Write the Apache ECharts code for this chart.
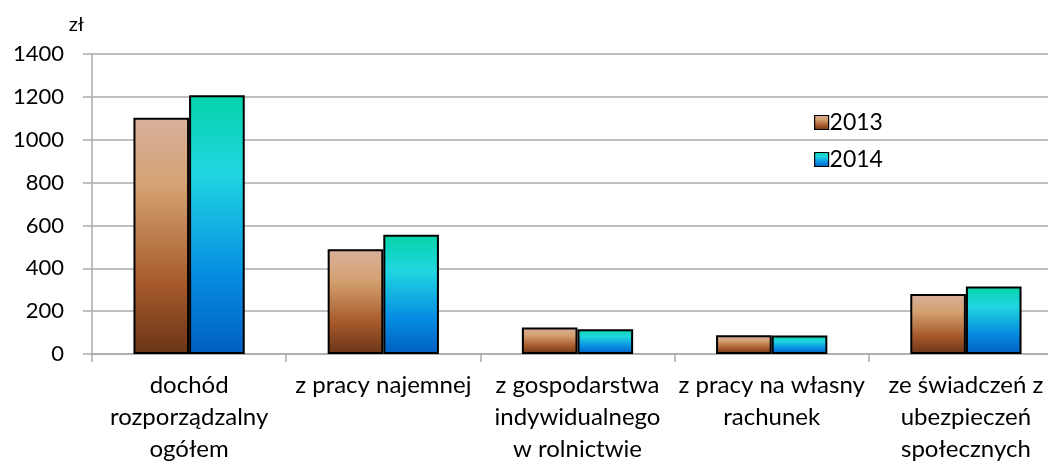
<!DOCTYPE html>
<html><head><meta charset="utf-8">
<script src="https://cdn.jsdelivr.net/npm/echarts@6/dist/echarts.min.js"></script>
<style>html,body{margin:0;padding:0;background:#fff}#c{width:1048px;height:466px}</style>
</head><body><div id="c"></div>
<script>
const categories = ['dochód\nrozporządzalny\nogółem', 'z pracy najemnej', 'z gospodarstwa\nindywidualnego\nw rolnictwie', 'z pracy na własny\nrachunek', 'ze świadczeń z\nubezpieczeń\nspołecznych'];
const seriesNames = ['2013', '2014'];
const values2013 = [1103, 489, 124, 87, 280];
const values2014 = [1207, 556, 116, 86, 315];
const yTicks = [0, 200, 400, 600, 800, 1000, 1200, 1400];

const FONT = "Lato";
function grad(stops){ return new echarts.graphic.LinearGradient(0,0,0,1, stops.map(s=>({offset:s[0],color:s[1]}))); }
const g2013 = () => grad([[0,'#d8b09c'],[0.3,'#d3a070'],[0.7,'#a75a2b'],[1,'#6a3418']]);
const g2014 = () => grad([[0,'#05d3a8'],[0.3,'#20d6e0'],[0.7,'#068ce2'],[1,'#005fc0']]);

const chart = echarts.init(document.getElementById('c'));
chart.setOption({
  animation:false,
  textStyle:{fontFamily:FONT},
  grid:{left:92, right:-15, top:54, bottom:112, containLabel:false, outerBoundsMode:'none'},
  legend:{
    data:[{name:'2013', itemStyle:{color:g2013()}},{name:'2014', itemStyle:{color:g2014()}}],
    orient:'vertical', left:809, top:106, itemWidth:14, itemHeight:14, itemGap:14,
    icon:'rect',
    textStyle:{fontSize:23, color:'#000', fontFamily:FONT, padding:[0,0,0,-4]},
    itemStyle:{borderColor:'#000', borderWidth:1.2}
  },
  xAxis:{
    type:'category', data:categories,
    axisLine:{lineStyle:{color:'#ababab', width:1.5}},
    axisTick:{show:true, length:8, lineStyle:{color:'#ababab', width:1.5}},
    axisLabel:{fontSize:24, color:'#000', lineHeight:32, margin:15, interval:0, fontFamily:FONT}
  },
  yAxis:{
    type:'value', min:0, max:1400, interval:200,
    name:'zł', nameLocation:'end', nameGap:19,
    nameTextStyle:{fontSize:20, color:'#000', align:'right', padding:[0,8,0,0], fontFamily:FONT},
    axisLine:{show:true, lineStyle:{color:'#ababab', width:1.5}},
    axisTick:{show:true, length:9, lineStyle:{color:'#ababab', width:1.5}},
    splitLine:{lineStyle:{color:'#ababab', width:1.5}},
    axisLabel:{fontSize:22, color:'#000', margin:28, fontFamily:FONT,
      formatter:v=> yTicks.includes(v) ? String(v) : ''}
  },
  series:[
    {name:seriesNames[0], type:'bar', data:values2013, barGap:'0%', barCategoryGap:'42.7%',
     itemStyle:{color:g2013(), borderColor:'#000', borderWidth:2}},
    {name:seriesNames[1], type:'bar', data:values2014, barGap:'0%', barCategoryGap:'42.7%',
     itemStyle:{color:g2014(), borderColor:'#000', borderWidth:2}}
  ]
});
</script></body></html>
